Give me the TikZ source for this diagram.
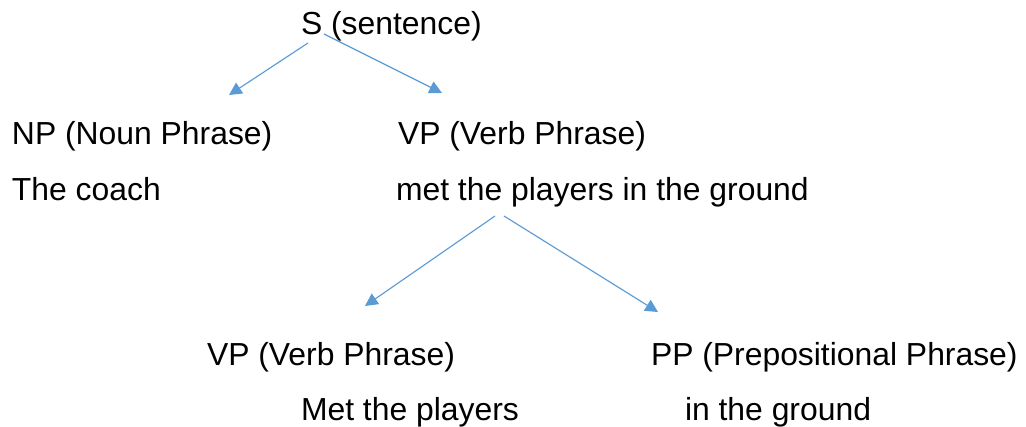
\documentclass[tikz,border=0pt]{standalone}
\usepackage{fontspec}
\setmainfont{Liberation Sans}
\usetikzlibrary{arrows.meta}
\definecolor{arrowblue}{HTML}{5B9BD5}
\begin{document}
\begin{tikzpicture}[x=0.75pt,y=-0.75pt,
  lbl/.style={anchor=base west,inner sep=0pt,outer sep=0pt,font=\fontsize{23.9pt}{28pt}\selectfont,text=black},
  conn/.style={draw=arrowblue,line width=0.85pt,-{Triangle[length=9.5pt,width=9.5pt]}}]
\fill[white] (0,0) rectangle (1026,427);
\useasboundingbox (0,0) rectangle (1026,427);
% texts
\node[lbl] (s)   at (301,35)  {S (sentence)};
\node[lbl] (np)  at (12,145)  {NP (Noun Phrase)};
\node[lbl] (npt) at (12,201)  {The coach};
\node[lbl] (vp)  at (398,145) {VP (Verb Phrase)};
\node[lbl] (vpt) at (396,201) {met the players in the ground};
\node[lbl] (vp2) at (207,366) {VP (Verb Phrase)};
\node[lbl] (vp2t) at (301,421) {Met the players};
\node[lbl] (pp)  at (651,366) {PP (Prepositional Phrase)};
\node[lbl] (ppt) at (685,421) {in the ground};
% connector end points
\coordinate (a1s) at (308,43);
\coordinate (a1e) at (229,95);
\coordinate (a2s) at (324,34);
\coordinate (a2e) at (442,93);
\coordinate (a3s) at (495,216);
\coordinate (a3e) at (365,306);
\coordinate (a4s) at (504,216);
\coordinate (a4e) at (658,312);
\draw[conn] (a1s) -- (a1e);
\draw[conn] (a2s) -- (a2e);
\draw[conn] (a3s) -- (a3e);
\draw[conn] (a4s) -- (a4e);
\end{tikzpicture}
\end{document}
